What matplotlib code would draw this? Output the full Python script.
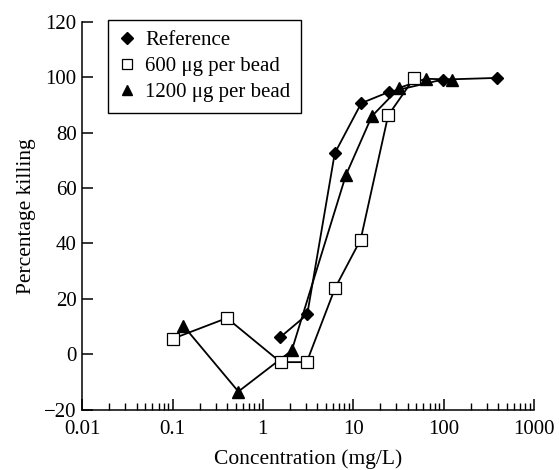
import numpy as np
import matplotlib
matplotlib.use("Agg")
import matplotlib.pyplot as plt
from matplotlib.lines import Line2D
from matplotlib.ticker import LogLocator, NullFormatter, FixedLocator

plt.rcParams['font.family'] = ['Liberation Serif', 'DejaVu Serif']

# data
ref_x = [1.56, 3.1, 6.25, 12.3, 24.7, 98, 390]
ref_y = [6.2, 14.4, 72.5, 90.6, 94.6, 99.1, 99.7]

b600_x = [0.1, 0.4, 1.57, 3.06, 6.3, 12.1, 24.4, 47]
b600_y = [5.6, 13.1, -2.8, -2.8, 23.9, 41.4, 86.2, 99.5]

b1200_x = [0.132, 0.536, 2.09, 8.3, 16.1, 32.4, 63.4, 123]
b1200_y = [10.3, -13.4, 1.4, 64.6, 85.9, 96.1, 99.4, 99.1]

labels = ["Reference", "600 \u03bcg per bead", "1200 \u03bcg per bead"]
xticks = [0.01, 0.1, 1, 10, 100, 1000]
xtick_labels = ["0.01", "0.1", "1", "10", "100", "1000"]
yticks = [-20, 0, 20, 40, 60, 80, 100, 120]

fig = plt.figure(figsize=(5.59, 4.70), dpi=100)
ax = fig.add_axes([0.147, 0.128, 0.808, 0.826])

lw = 1.3
ax.plot(ref_x, ref_y, color='black', lw=lw, marker='D', ms=6.5,
        mfc='black', mec='black', zorder=3)
ax.plot(b600_x, b600_y, color='black', lw=lw, marker='s', ms=8,
        mfc='white', mec='black', mew=0.9, zorder=4)
ax.plot(b1200_x, b1200_y, color='black', lw=lw, marker='^', ms=8,
        mfc='black', mec='black', zorder=3)

ax.set_xscale('log')
ax.set_xlim(0.01, 1000)
ax.set_ylim(-20, 120)
ax.xaxis.set_major_locator(FixedLocator(xticks))
ax.set_xticklabels(xtick_labels)
ax.xaxis.set_minor_locator(LogLocator(base=10, subs=np.arange(2, 10), numticks=20))
ax.xaxis.set_minor_formatter(NullFormatter())
ax.set_yticks(yticks)

for s in ['top', 'right']:
    ax.spines[s].set_visible(False)
for s in ['left', 'bottom']:
    ax.spines[s].set_linewidth(1.1)

ax.tick_params(axis='both', which='major', direction='in', length=8, width=1.1,
               labelsize=15, pad=4)
ax.tick_params(axis='x', which='major', pad=7)
ax.tick_params(axis='x', which='minor', direction='in', length=5, width=1.0)
ax.tick_params(axis='y', which='minor', left=False)

ax.set_xlabel("Concentration (mg/L)", fontsize=15.5, labelpad=8)
ax.set_ylabel("Percentage killing", fontsize=15.5, labelpad=6)

handles = [
    Line2D([], [], ls='none', marker='D', ms=6, mfc='black', mec='black'),
    Line2D([], [], ls='none', marker='s', ms=7.5, mfc='white', mec='black', mew=0.9),
    Line2D([], [], ls='none', marker='^', ms=7.5, mfc='black', mec='black'),
]
leg = ax.legend(handles, labels, loc='upper left', bbox_to_anchor=(0.057, 1.003),
                fontsize=15, frameon=True, fancybox=False, framealpha=1,
                edgecolor='black', handlelength=0.8, handletextpad=0.5,
                labelspacing=0.3, borderpad=0.5, borderaxespad=0, numpoints=1)
leg.get_frame().set_linewidth(1.0)

fig.savefig("out.png", dpi=100)
